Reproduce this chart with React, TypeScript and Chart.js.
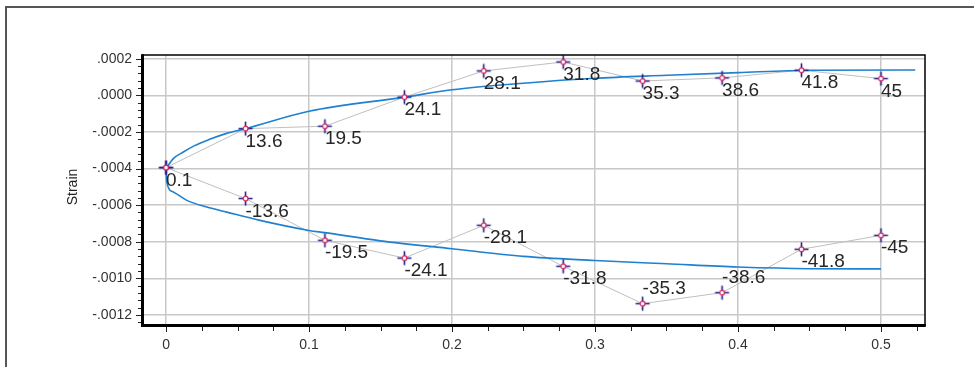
import React, { useEffect, useRef } from 'react';
import { Chart, registerables } from 'chart.js';

Chart.register(...registerables);

// ---- data ----
const stationX = [0, 0.0556, 0.1111, 0.1667, 0.2222, 0.2778, 0.3333, 0.3889, 0.4444, 0.5];
const upperStrain = [-0.000395, -0.000182, -0.000169, -0.00001, 0.000133, 0.000182, 0.000078, 0.000095, 0.000137, 0.000091];
const upperLabels = ['0.1', '13.6', '19.5', '24.1', '28.1', '31.8', '35.3', '38.6', '41.8', '45'];
const lowerStrain = [-0.000395, -0.000564, -0.000792, -0.000889, -0.00071, -0.000934, -0.001138, -0.001078, -0.000841, -0.000765];
const lowerLabels = ['', '-13.6', '-19.5', '-24.1', '-28.1', '-31.8', '-35.3', '-38.6', '-41.8', '-45'];

const upperFitX = [0, 0.0051, 0.0121, 0.02, 0.03, 0.0424, 0.0556, 0.1, 0.1667, 0.2, 0.25, 0.3, 0.35, 0.4, 0.45, 0.524];
const upperFitY = [-0.0004, -0.000346, -0.00031, -0.000275, -0.000242, -0.000208, -0.000182, -0.000087, -0.00001, 0.00003, 0.000066, 0.000093, 0.000109, 0.000124, 0.000137, 0.000138];
const lowerFitX = [0, 0.0005, 0.0051, 0.0145, 0.0285, 0.0425, 0.0657, 0.1, 0.111, 0.15, 0.2, 0.25, 0.3, 0.35, 0.4, 0.45, 0.5];
const lowerFitY = [-0.0004, -0.000474, -0.000528, -0.000574, -0.00061, -0.000638, -0.000683, -0.000738, -0.00075, -0.000795, -0.000838, -0.00088, -0.000902, -0.00092, -0.000938, -0.000947, -0.000948];

const xTicks = [0, 0.1, 0.2, 0.3, 0.4, 0.5];
const xTickLabels = ['0', '0.1', '0.2', '0.3', '0.4', '0.5'];
const yTicks = [0.0002, 0, -0.0002, -0.0004, -0.0006, -0.0008, -0.001, -0.0012];
const yTitle = 'Strain';

const X_MIN = -0.0168;
const X_MAX = 0.5308;
const Y_MIN = -0.00126;
const Y_MAX = 0.00022;

function fmtY(v: number): string {
  const s = Math.abs(v).toFixed(4).replace(/^0/, '');
  return (v < -1e-12 ? '-' : '') + s;
}

function makeMarker(): HTMLCanvasElement {
  const c = document.createElement('canvas');
  c.width = 17;
  c.height = 17;
  const g = c.getContext('2d')!;
  g.strokeStyle = '#20208a';
  g.lineWidth = 1.6;
  g.beginPath();
  g.moveTo(1.5, 8.5);
  g.lineTo(15.5, 8.5);
  g.moveTo(8.5, 1.5);
  g.lineTo(8.5, 15.5);
  g.stroke();
  g.fillStyle = '#ffffff';
  g.beginPath();
  g.arc(8.5, 8.5, 2.4, 0, Math.PI * 2);
  g.fill();
  g.strokeStyle = '#d81e5b';
  g.lineWidth = 1.2;
  g.stroke();
  return c;
}

const labelsAbove = new Set(['-35.3', '-38.6']);

const decorPlugin = {
  id: 'decor',
  beforeDraw(chart: any) {
    const ctx = chart.ctx;
    ctx.save();
    ctx.fillStyle = '#ffffff';
    ctx.fillRect(0, 0, chart.width, chart.height);
    ctx.strokeStyle = '#555555';
    ctx.lineWidth = 2;
    ctx.beginPath();
    ctx.moveTo(6, chart.height + 2);
    ctx.lineTo(6, 7);
    ctx.lineTo(chart.width + 2, 7);
    ctx.stroke();
    ctx.restore();
  },
  afterDatasetsDraw(chart: any) {
    const ctx = chart.ctx;
    const a = chart.chartArea;
    const xs = chart.scales.x;
    const ys = chart.scales.y;
    ctx.save();
    // data labels
    ctx.font = '19px "Liberation Sans", Arial, sans-serif';
    ctx.fillStyle = '#262626';
    ctx.textAlign = 'left';
    ctx.textBaseline = 'alphabetic';
    const drawLabels = (ys2: number[], labels: string[]) => {
      for (let i = 0; i < stationX.length; i++) {
        const t = labels[i];
        if (!t) continue;
        const px = xs.getPixelForValue(stationX[i]);
        const py = ys.getPixelForValue(ys2[i]);
        const dy = labelsAbove.has(t) ? -10 : 18;
        ctx.fillText(t, px, py + dy);
      }
    };
    drawLabels(upperStrain, upperLabels);
    drawLabels(lowerStrain, lowerLabels);

    // plot border
    ctx.strokeStyle = '#000000';
    ctx.lineWidth = 1.5;
    ctx.beginPath();
    ctx.moveTo(a.left, a.top);
    ctx.lineTo(a.right, a.top);
    ctx.lineTo(a.right, a.bottom);
    ctx.stroke();
    ctx.lineWidth = 3;
    ctx.beginPath();
    ctx.moveTo(a.left + 0.5, a.top - 0.75);
    ctx.lineTo(a.left + 0.5, a.bottom - 0.5);
    ctx.lineTo(a.right + 0.75, a.bottom - 0.5);
    ctx.stroke();

    // ticks
    ctx.lineWidth = 1;
    ctx.strokeStyle = '#222222';
    ctx.beginPath();
    for (let k = -40; k <= 40; k++) {
      const v = k * 0.025;
      if (v < X_MIN || v > X_MAX) continue;
      const px = Math.round(xs.getPixelForValue(v)) + 0.5;
      const major = k % 4 === 0;
      ctx.moveTo(px, a.bottom + 1);
      ctx.lineTo(px, a.bottom + (major ? 6 : 5));
    }
    for (let k = -40; k <= 10; k++) {
      const v = k * 0.00004;
      if (v < Y_MIN || v > Y_MAX) continue;
      const py = Math.round(ys.getPixelForValue(v)) + 0.5;
      const major = k % 5 === 0;
      ctx.moveTo(a.left - 1, py);
      ctx.lineTo(a.left - (major ? 6 : 4), py);
    }
    ctx.stroke();

    // axis title
    ctx.translate(73, 187);
    ctx.rotate(-Math.PI / 2);
    ctx.font = '14px "Liberation Sans", Arial, sans-serif';
    ctx.fillStyle = '#222222';
    ctx.textAlign = 'center';
    ctx.textBaseline = 'middle';
    ctx.fillText(yTitle, 0, 0);
    ctx.restore();
  },
};

export default function App() {
  const ref = useRef<HTMLCanvasElement | null>(null);
  useEffect(() => {
    if (!ref.current) return;
    const marker = makeMarker();
    const pts = (xa: number[], ya: number[]) => xa.map((x, i) => ({ x, y: ya[i] }));
    const chart = new Chart(ref.current, {
      type: 'line',
      data: {
        datasets: [
          {
            data: pts(stationX, upperStrain),
            showLine: false,
            pointStyle: marker as any,
            pointRadius: 8,
            order: 0,
          },
          {
            data: pts(stationX, lowerStrain),
            showLine: false,
            pointStyle: marker as any,
            pointRadius: 8,
            order: 0,
          },
          {
            data: pts(upperFitX, upperFitY),
            borderColor: '#1f80d0',
            borderWidth: 1.6,
            pointRadius: 0,
            cubicInterpolationMode: 'monotone',
            order: 1,
          },
          {
            data: pts(lowerFitX, lowerFitY),
            borderColor: '#1f80d0',
            borderWidth: 1.6,
            pointRadius: 0,
            cubicInterpolationMode: 'monotone',
            order: 1,
          },
          {
            data: pts(stationX, upperStrain),
            borderColor: '#c0c0c0',
            borderWidth: 1,
            pointRadius: 0,
            tension: 0,
            order: 2,
          },
          {
            data: pts(stationX, lowerStrain),
            borderColor: '#c0c0c0',
            borderWidth: 1,
            pointRadius: 0,
            tension: 0,
            order: 2,
          },
        ] as any,
      },
      options: {
        animation: false,
        responsive: false,
        events: [],
        layout: { padding: { left: 0, top: 55, right: 49, bottom: 0 } },
        plugins: { legend: { display: false }, tooltip: { enabled: false } },
        scales: {
          x: {
            type: 'linear',
            min: X_MIN,
            max: X_MAX,
            afterBuildTicks: (s: any) => {
              s.ticks = xTicks.map((v) => ({ value: v }));
            },
            afterFit: (s: any) => {
              s.height = 41;
            },
            ticks: {
              callback: (v: any) => {
                const i = xTicks.findIndex((t) => Math.abs(t - v) < 1e-9);
                return i >= 0 ? xTickLabels[i] : '';
              },
              font: { size: 14, family: '"Liberation Sans", Arial, sans-serif' },
              color: '#333333',
              padding: 11,
              maxRotation: 0,
              autoSkip: false,
            },
            grid: { color: '#c8c8c8', lineWidth: 1.5, drawTicks: false },
            border: { display: false },
          },
          y: {
            type: 'linear',
            min: Y_MIN,
            max: Y_MAX,
            afterBuildTicks: (s: any) => {
              s.ticks = yTicks.map((v) => ({ value: v }));
            },
            afterFit: (s: any) => {
              s.width = 142;
            },
            ticks: {
              callback: (v: any) => fmtY(Number(v)),
              font: { size: 14, family: '"Liberation Sans", Arial, sans-serif' },
              color: '#333333',
              padding: 10,
              autoSkip: false,
            },
            grid: { color: '#c8c8c8', lineWidth: 1.5, drawTicks: false },
            border: { display: false },
          },
        },
      },
      plugins: [decorPlugin],
    });
    return () => chart.destroy();
  }, []);
  return (
    <div style={{ position: 'fixed', left: 0, top: 0, width: 974, height: 367, background: '#fff' }}>
      <canvas ref={ref} width={974} height={367} style={{ display: 'block', width: 974, height: 367 }} />
    </div>
  );
}
